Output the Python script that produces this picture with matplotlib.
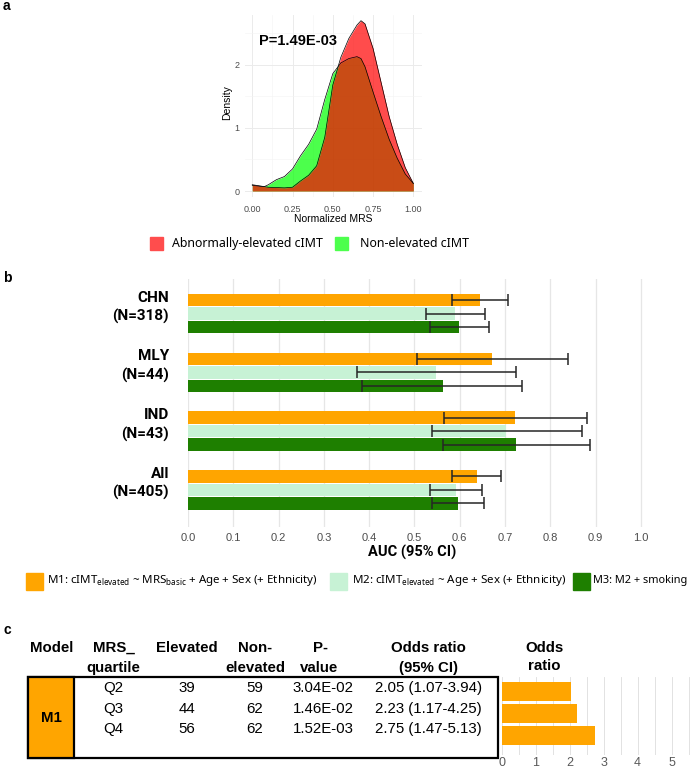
import numpy as np
import matplotlib
matplotlib.use("Agg")
import matplotlib.pyplot as plt
from matplotlib.patches import Rectangle

plt.rcParams['font.family'] = ['Liberation Sans', 'DejaVu Sans']
plt.rcParams['mathtext.fontset'] = 'custom'
plt.rcParams['mathtext.rm'] = 'Noto Sans'

W, H = 692, 768

# ---- panel a: density of normalized MRS
mrs_x = [0.00, 0.05, 0.075, 0.10, 0.15, 0.20, 0.25, 0.30, 0.35, 0.40, 0.45, 0.50,
         0.55, 0.60, 0.65, 0.675, 0.70, 0.75, 0.80, 0.85, 0.90, 0.95, 1.00]
dens_elevated = [0.10, 0.08, 0.07, 0.06, 0.055, 0.05, 0.06, 0.16, 0.25, 0.40, 0.85, 1.68,
                 2.12, 2.42, 2.63, 2.70, 2.65, 2.26, 1.72, 1.18, 0.74, 0.37, 0.12]
dens_nonelevated = [0.09, 0.075, 0.07, 0.10, 0.18, 0.23, 0.35, 0.56, 0.74, 0.98, 1.45, 1.86,
                    2.03, 2.10, 2.13, 2.10, 1.97, 1.57, 1.18, 0.82, 0.52, 0.27, 0.12]
p_text = "P=1.49E-03"
legend_a = ["Abnormally-elevated cIMT", "Non-elevated cIMT"]

# ---- panel b: AUC (95% CI)
groups = ["CHN", "MLY", "IND", "All"]
group_n = ["(N=318)", "(N=44)", "(N=43)", "(N=405)"]
auc_m1 = [0.644, 0.671, 0.722, 0.637]
lo_m1 = [0.582, 0.505, 0.566, 0.582]
hi_m1 = [0.707, 0.839, 0.881, 0.692]
auc_m2 = [0.590, 0.548, 0.702, 0.592]
lo_m2 = [0.525, 0.373, 0.538, 0.535]
hi_m2 = [0.655, 0.724, 0.869, 0.649]
auc_m3 = [0.599, 0.562, 0.724, 0.597]
lo_m3 = [0.535, 0.385, 0.562, 0.539]
hi_m3 = [0.664, 0.738, 0.888, 0.654]
model_labels = [r"M1: cIMT$_{\mathrm{elevated}}$ ~ MRS$_{\mathrm{basic}}$ + Age + Sex (+ Ethnicity)",
                r"M2: cIMT$_{\mathrm{elevated}}$ ~ Age + Sex (+ Ethnicity)",
                "M3: M2 + smoking"]
model_colors = ["#FFA500", "#C7F2D5", "#1E7F00"]

# ---- panel c: quartile table
quartiles = ["Q2", "Q3", "Q4"]
n_elevated = [39, 44, 56]
n_nonelevated = [59, 62, 62]
p_values = ["3.04E-02", "1.46E-02", "1.52E-03"]
odds = [2.05, 2.23, 2.75]
odds_lo = [1.07, 1.17, 1.47]
odds_hi = [3.94, 4.25, 5.13]


def box(l, t, r, b):
    return [l / W, 1 - b / H, (r - l) / W, (b - t) / H]


fig = plt.figure(figsize=(W / 100, H / 100), dpi=100)
ov = fig.add_axes([0, 0, 1, 1])
ov.set_xlim(0, W)
ov.set_ylim(H, 0)
ov.axis('off')

aptos = ['Noto Sans', 'DejaVu Sans']
narrow = ['Liberation Sans Narrow', 'Roboto', 'DejaVu Sans']

# panel letters
for lab, y in [("a", 6), ("b", 278.5), ("c", 630)]:
    ov.text(3, y, lab, fontsize=10, fontweight='bold', va='center', ha='left')

# ---------------- panel a
ax = fig.add_axes(box(245, 15, 421.7, 196.7))
ax.set_xlim(-0.045, 1.052)
ax.set_ylim(-0.09, 2.79)
for s in ax.spines.values():
    s.set_visible(False)
ax.set_xticks([0, 0.25, 0.5, 0.75, 1.0])
ax.set_xticklabels(["0.00", "0.25", "0.50", "0.75", "1.00"])
ax.set_yticks([0, 1, 2])
ax.set_xticks([0.125, 0.375, 0.625, 0.875], minor=True)
ax.set_yticks([0.5, 1.5, 2.5], minor=True)
ax.grid(True, which='major', color='#EBEBEB', lw=0.7)
ax.grid(True, which='minor', color='#F3F3F3', lw=0.4)
ax.tick_params(which='both', length=0, labelsize=6.5, colors='#4D4D4D')
ax.tick_params(axis='x', pad=6)
ax.tick_params(axis='y', pad=4)
ax.set_axisbelow(True)
ax.fill_between(mrs_x, dens_nonelevated, color=(0, 1, 0), alpha=0.7, lw=0)
ax.plot(mrs_x, dens_nonelevated, color='black', lw=0.5)
ax.fill_between(mrs_x, dens_elevated, color=(1, 0, 0), alpha=0.7, lw=0)
ax.plot(mrs_x, dens_elevated, color='black', lw=0.5)
ax.text(0.285, 2.37, p_text, fontsize=10.5, fontweight='bold', ha='center', va='center')
ov.text(227, 103, "Density", rotation=90, fontsize=7.5, ha='center', va='center')
ov.text(333, 219, "Normalized MRS", fontsize=7.5, ha='center', va='center')

# legend a
for x0, tx, col, lab in [(150, 172, (1, 0.3, 0.3), legend_a[0]),
                         (335, 360, (0.3, 1, 0.3), legend_a[1])]:
    ov.add_patch(Rectangle((x0, 236.5), 13, 13, color=col))
    ov.text(tx, 243.3, lab, fontsize=8.9, family=aptos, va='center', ha='left')

# ---------------- panel b
axb = fig.add_axes(box(188, 279, 650, 527))
axb.set_xlim(0, 1.02)
axb.set_ylim(16.8, -1.57)
for s in axb.spines.values():
    s.set_visible(False)
axb.set_xticks(np.round(np.arange(0, 1.01, 0.1), 1))
axb.set_yticks([])
axb.grid(True, axis='x', color='#E6E6E6', lw=0.9)
axb.set_axisbelow(True)
axb.tick_params(length=0, labelsize=8, colors='#4D4D4D', pad=4)

gstep = 4.35
gy = np.arange(len(groups)) * gstep
series = [(auc_m1, lo_m1, hi_m1), (auc_m2, lo_m2, hi_m2), (auc_m3, lo_m3, hi_m3)]
for i, (v, lo, hi) in enumerate(series):
    v = np.array(v)
    y = gy + i
    axb.barh(y, v, height=0.92, color=model_colors[i], lw=0)
    axb.errorbar(v, y, xerr=[v - np.array(lo), np.array(hi) - v], fmt='none',
                 ecolor='#262626', elinewidth=1.1, capsize=4.3, capthick=1.1)

for g, (name, n) in enumerate(zip(groups, group_n)):
    yc = 313.7 + g * 58.7
    ov.text(169, yc - 16, name, fontsize=11, fontweight='bold', family=narrow,
            ha='right', va='center')
    ov.text(169, yc + 3, n, fontsize=11, fontweight='bold', family=narrow,
            ha='right', va='center')
ov.text(412, 552.3, "AUC (95% CI)", fontsize=10.5, fontweight='bold', family=narrow,
        ha='center', va='center')

# legend b
for x0, tx, col, lab, fs in [(25.7, 47, model_colors[0], model_labels[0], 8.3),
                             (330, 352, model_colors[1], model_labels[1], 8.3),
                             (572.5, 593, model_colors[2], model_labels[2], 7.9)]:
    ov.add_patch(Rectangle((x0, 572.5), 17, 17.5, color=col))
    ov.text(tx, 581, lab, fontsize=fs, family=aptos, va='center', ha='left')

# ---------------- panel c table
hdr = dict(fontsize=10.8, fontweight='bold', ha='center', va='center')
ov.text(51.3, 648, "Model", **hdr)
ov.text(114, 648, "MRS_", **hdr)
ov.text(113, 668, "quartile", **hdr)
ov.text(186.7, 648, "Elevated", **hdr)
ov.text(255, 648, "Non-", **hdr)
ov.text(255, 668, "elevated", **hdr)
ov.text(320, 648, "P-", **hdr)
ov.text(319, 668, "value", **hdr)
ov.text(428.7, 648, "Odds ratio", **hdr)
ov.text(428.7, 668, "(95% CI)", **hdr)
ov.text(544.3, 648, "Odds", **hdr)
ov.text(544.3, 666, "ratio", **hdr)

ov.add_patch(Rectangle((28.3, 676.7), 497.7 - 28.3, 81, fill=False, ec='black', lw=1.6))
ov.add_patch(Rectangle((28.3, 676.7), 74 - 28.3, 81, fc='#FFA500', ec='black', lw=1.6))
ov.text(51.2, 718.3, "M1", **hdr)

body = dict(fontsize=10.8, ha='center', va='center')
for r, q in enumerate(quartiles):
    yr = 688.3 + r * 20.3
    ov.text(113, yr, q, **body)
    ov.text(186.7, yr, str(n_elevated[r]), **body)
    ov.text(255, yr, str(n_nonelevated[r]), **body)
    ov.text(323, yr, p_values[r], **body)
    ov.text(428.7, yr, f"{odds[r]:.2f} ({odds_lo[r]:.2f}-{odds_hi[r]:.2f})", **body)

# odds ratio bars
axc = fig.add_axes(box(501.7, 677, 692, 755))
axc.set_xlim(0, 5.6)
axc.set_ylim(2.89, -0.65)
for s in axc.spines.values():
    s.set_visible(False)
axc.set_xticks(range(6))
axc.set_xticks(np.arange(0.5, 5.6, 1.0), minor=True)
axc.set_yticks([])
axc.grid(True, axis='x', which='both', color='#DDDDDD', lw=0.6)
axc.set_axisbelow(True)
axc.tick_params(which='both', length=0, labelsize=9, colors='#595959', pad=1.5)
axc.barh(range(len(odds)), odds, height=0.87, color='#FFA500', lw=0)

fig.savefig("out.png", dpi=100)
